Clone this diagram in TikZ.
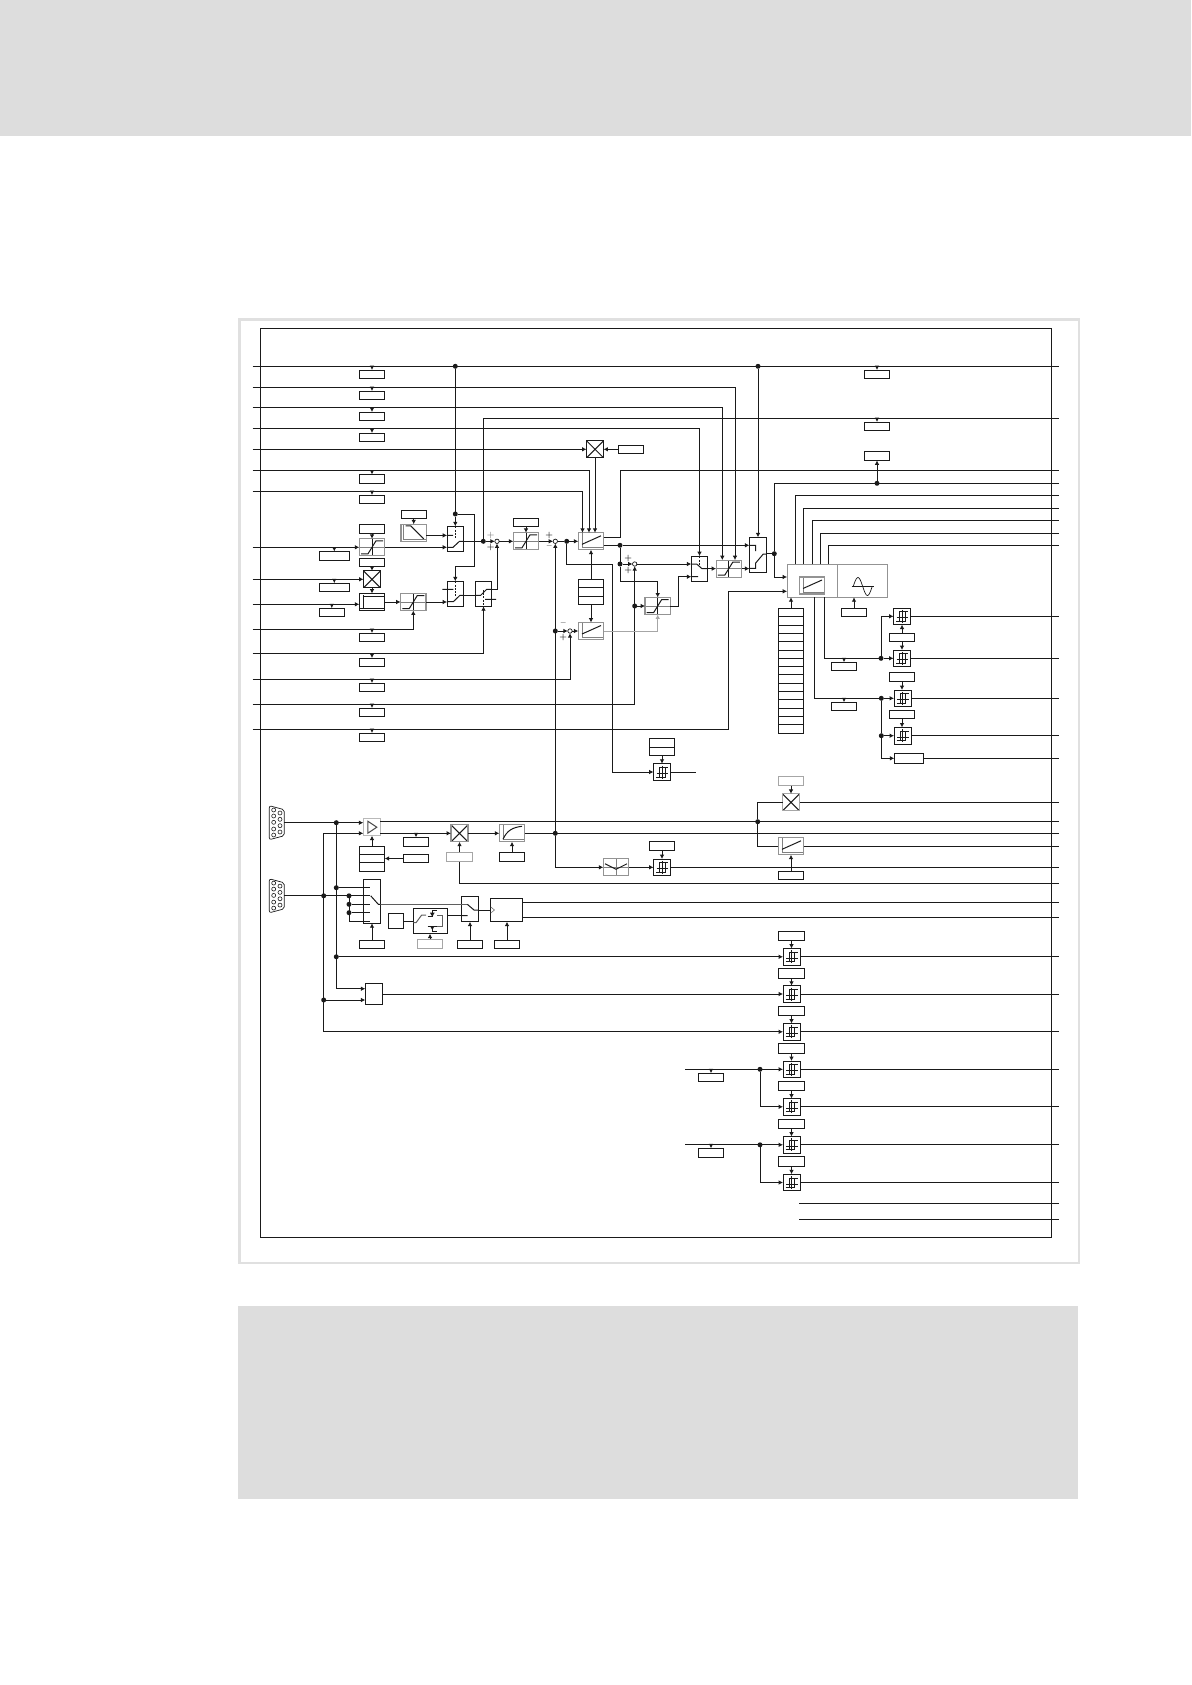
\documentclass[tikz,border=0pt]{standalone}
\usetikzlibrary{arrows.meta}
\definecolor{bandgray}{HTML}{DDDDDD}
\definecolor{framegray}{HTML}{E0E0E0}
\definecolor{linecol}{HTML}{1A1A1A}
\tikzset{
    >={Latex[length=4.4pt,width=4.6pt]},
    every path/.style={line width=1pt},
    glyph/.style={path picture={\begin{scope}[shift={(path picture bounding box.center)},line width=.7pt,linecol]#1\end{scope}}},
    block/.style={draw=linecol,rectangle,inner sep=0pt,outer sep=0pt,minimum width=25.4pt,minimum height=17pt},
    grayblock/.style={block,draw=gray!85,line width=1.2pt},
    parbox/.style={block,minimum height=8.6pt},
    tallbox/.style={block,minimum height=9.4pt},
    graybox/.style={tallbox,draw=gray!70,line width=1.2pt},
    crossglyph/.style={glyph={\draw (-8.5,-8.5)--(8.5,8.5) (-8.5,8.5)--(8.5,-8.5);}},
    crossblock/.style={block,minimum width=17pt,crossglyph},
    limitblock/.style={grayblock,glyph={\draw[gray] (-12.7,0)--(12.7,0); \draw (0,-8)--(0,8);
        \draw (-11,6.5)--(-4,6.5)--(4,-6.5)--(11,-6.5);}},
    rampblock/.style={grayblock,glyph={\draw[gray,line width=1pt] (-10,-8)--(-10,7)--(12,7);
        \draw (-8,-7)--(-3,-7)--(10,6);}},
    piblock/.style={grayblock,glyph={\draw[gray,line width=.9pt] (-9,-8)--(-9,6.5)--(12,6.5);
        \draw (-9,3)--(10,-5.5);}},
    curveblock/.style={block,glyph={\draw (-9,-7)--(-9,7) (-12,6)--(12,6) (-9,-5.5)--(12,-5.5);}},
    expblock/.style={grayblock,glyph={\draw[gray,line width=.9pt] (-9,-8)--(-9,6.5)--(12,6.5);
        \draw (-9,6) .. controls (-5,-3) and (1,-6) .. (10,-7);}},
    ampblock/.style={grayblock,minimum width=17pt,draw=gray!55,glyph={\draw[gray!60!black] (-4,-6)--(-4,6)--(5,0)--cycle;}},
    wedgeblock/.style={grayblock,glyph={\draw[gray] (-12.7,0)--(12.7,0) (0,-8)--(0,8);
        \draw (-11,-3.5)--(0,2)--(11,-3.5);}},
    hystblock/.style={block,minimum width=17pt,minimum height=16.6pt,glyph={
        \draw (-5.5,1.5)--(6,1.5) (0,-6.5)--(0,6.5);
        \draw (-2.5,5)--(-2.5,-4.5)--(6,-4.5) (-6,5)--(3,5)--(3,-4.5);}},
    switchbox/.style={block,minimum width=16.4pt,minimum height=25pt},
    dot/.style={circle,fill=linecol,inner sep=0pt,outer sep=0pt,minimum size=5pt},
    sumnode/.style={circle,draw=linecol,fill=white,inner sep=0pt,outer sep=0pt,minimum size=4.4pt,line width=.7pt},
    sign/.style={inner sep=0pt,font=\fontsize{8}{8}\selectfont\bfseries,text=linecol},
}
\begin{document}
\begin{tikzpicture}[x=1pt,y=-1pt,linecol]
    \useasboundingbox (0,0) rectangle (1191,1685);
    \fill[bandgray] (0,0) rectangle (1191,135.7);
    \fill[bandgray] (238,1306) rectangle (1078,1498.5);
    \draw[framegray,line width=2.4pt] (239.3,319.5) rectangle (1079,1262.7);
    \draw (260.5,328) rectangle (1051.7,1237);

    \foreach \n/\y in {1/366.3,2/387.3,3/407.3,4/428.3,5/449.3,6/470.3,7/491.3,8/547.3,9/579.3,10/604.3,
        11/629.3,12/653.3,13/679.3,14/704.3,15/729.3}
        \coordinate (in\n) at (252.5,\y);
    \foreach \n/\y in {1/366.3,2/418.5,3/470.3,4/483.3,5/495.3,6/508.3,7/520.7,8/533.3,9/545.3,10/616.3,
        11/658.3,12/698.3,13/735.7,14/758.3,15/802.3,16/821.7,17/833.3,18/846.3,19/867.3,20/883.3,
        21/902.3,22/917.3,23/956.8,24/994,25/1031.8,26/1069.3,27/1106.8,28/1144.8,29/1182.5,30/1203.3,31/1219.3}
        \coordinate (out\n) at (1059,\y);

    \foreach \n/\y in {1/374.3,2/395.3,3/416.3,4/437.3,6/478.8,7/499.3,11/637.3,12/662.3,13/687.3,14/712.3,15/737.3}{
        \node[parbox] (par\n) at (372,\y) {};
        \draw[->] (par\n |- in\n) -- (par\n);
    }

    \node[tallbox] (parLimA) at (372,529) {};
    \node[limitblock] (limA) at (372,547.3) {};
    \node[parbox] (parCrossA) at (372,562.5) {};
    \node[crossblock] (crossA) at (372,579.3) {};
    \node[curveblock] (curveA) at (372,602) {};
    \node[parbox,minimum width=30pt] (parInA) at (334.3,555.8) {};
    \node[parbox,minimum width=30pt] (parInB) at (334.3,587.5) {};
    \node[parbox] (parInC) at (331.8,612.5) {};
    \node[rampblock] (rampA) at (413.7,532.8) {};
    \node[parbox] (parRampA) at (413.7,514.5) {};
    \node[limitblock] (limB) at (413.3,602) {};
    \node[switchbox] (swA) at (455.3,538.8) {};
    \node[switchbox] (swB) at (455.3,593.8) {};
    \node[switchbox] (swC) at (483.5,593.8) {};
    \node[limitblock] (limC) at (526,541.3) {};
    \node[parbox] (parLimC) at (526,522.5) {};
    \node[piblock] (piA) at (591,541.3) {};
    \node[crossblock] (crossB) at (595,449.3) {};
    \node[parbox] (parCrossB) at (631,449.3) {};
    \node[block,minimum height=25.4pt] (regA) at (591,592) {};
    \node[piblock] (piB) at (591,631) {};
    \node[limitblock] (limD) at (657.7,606) {};
    \node[switchbox] (swD) at (699.5,568.6) {};
    \node[limitblock] (limE) at (728.8,568.6) {};
    \node[block,minimum width=17.3pt,minimum height=35pt] (swE) at (758,554.8) {};
    \node[block,draw=gray!85,line width=1.2pt,minimum width=50.2pt,minimum height=33pt] (mainL) at (812.2,580.8) {};
    \node[block,draw=gray!85,line width=1.2pt,minimum width=50pt,minimum height=33pt] (mainR) at (862.3,580.8) {};
    \node[piblock] (piC) at (812,585.5) {};
    \draw[line width=.7pt] (851.5,586.5) -- (874,586.5);
    \draw[line width=.7pt] plot[domain=-9.5:9.5,samples=30] (862.7+\x,{586.5+9*sin(\x*19)});
    \node[parbox] (parSine) at (854,612.3) {};
    \node[block,minimum height=125pt] (stackA) at (791,670.8) {};
    \foreach \i in {1,...,14}
        \draw[line width=.9pt] (778.3,608.3+\i*8.33) -- (803.7,608.3+\i*8.33);
    \draw[line width=.9pt] (578.3,587.7) -- (603.7,587.7) (578.3,596) -- (603.7,596);

    \node[parbox] (parOutA) at (877,374.3) {};
    \node[parbox] (parOutB) at (877,426.3) {};
    \node[tallbox] (parOutC) at (877,455.7) {};
    \node[parbox] (parMainA) at (844,666.5) {};
    \node[parbox] (parMainB) at (844,706.5) {};
    \node[hystblock] (hystA) at (902,616.3) {};
    \node[parbox] (parHystA) at (902,637.5) {};
    \node[hystblock] (hystB) at (902,658.3) {};
    \node[tallbox] (parHystC) at (902,677) {};
    \node[hystblock] (hystC) at (902.5,698.3) {};
    \node[parbox] (parHystD) at (902,714.5) {};
    \node[hystblock] (hystD) at (902.5,735.7) {};
    \node[block,minimum width=29.4pt,minimum height=10pt] (wideA) at (909,758.3) {};
    \node[block,minimum height=17.4pt] (regB) at (662,747) {};
    \draw[line width=.9pt] (649.3,747.3) -- (674.7,747.3);
    \node[hystblock] (hystF) at (662,772) {};

    \node[sumnode] (sumA) at (497,541.3) {};
    \node[sumnode] (sumB) at (555.3,541.3) {};
    \node[sumnode] (sumC) at (634.7,564) {};
    \node[sumnode] (sumD) at (570,631) {};
    \node[sign,text=gray] (signA) at (490.7,535) {+};
    \node[sign] (signB) at (490.7,547.3) {+};
    \node[sign] (signC) at (549.3,535.3) {+};
    \node[sign] (signD) at (549.3,547.3) {--};
    \node[sign] (signE) at (628.3,558) {+};
    \node[sign] (signF) at (628.3,570.3) {+};
    \node[sign] (signG) at (563.3,624.3) {--};
    \node[sign] (signH) at (563.3,637.3) {+};

    \node[dot] (dotA) at (455.3,366.3) {};
    \node[dot] (dotB) at (455.3,514) {};
    \node[dot] (dotC) at (483.3,541.3) {};
    \node[dot] (dotD) at (566.7,541.3) {};
    \node[dot] (dotE) at (555.3,631) {};
    \node[dot] (dotF) at (555.3,833.3) {};
    \node[dot] (dotG) at (620,545.3) {};
    \node[dot] (dotH) at (620,564) {};
    \node[dot] (dotI) at (634.7,606) {};
    \node[dot] (dotJ) at (758,366.3) {};
    \node[dot] (dotK) at (774.3,553.7) {};
    \node[dot] (dotL) at (877,483.3) {};
    \node[dot] (dotM) at (881,658.3) {};
    \node[dot] (dotN) at (881.3,698.3) {};
    \node[dot] (dotO) at (881.3,735.7) {};

    \coordinate (turnA) at (612.3,564.3);
    \coordinate (turnB) at (620.3,470.3);
    \coordinate (turnC) at (640,581.3);
    \coordinate (turnD) at (678.3,576.7);
    \coordinate (turnE) at (728.3,591.3);
    \coordinate (turnF) at (474.3,514);
    \coordinate (turnG) at (474.3,566.7);
    \coordinate (turnH) at (497,589.3);
    \coordinate (endF) at (695.7,772);

    \draw (in1) -- (out1);
    \draw[->] (dotA) -- (dotB) -- (swA.north);
    \draw[->] (dotB) -- (turnF) -- (turnG) -| (swB.north);
    \draw[->] (in2) -| ([xshift=6.2pt]limE.north);
    \draw[->] (in3) -| ([xshift=-6.5pt]limE.north);
    \draw[->] (in4) -| (swD.north);
    \draw[->] (in5) -- (crossB);
    \draw[->] (parCrossB) -- (crossB);
    \draw[->] (in6) -| ([xshift=-2pt]piA.north);
    \draw[->] (in7) -| ([xshift=-8.5pt]piA.north);
    \draw[->] (crossB.south) -- ([xshift=4pt]piA.north);
    \draw[->] (in8) -- (limA);
    \draw[->] (in9) -- (crossA);
    \draw[->] (in10) -- (in10 -| curveA.west);
    \draw[->] (parInA |- in8) -- (parInA);
    \draw[->] (parInB |- in9) -- (parInB);
    \draw[->] (parInC |- in10) -- (parInC);
    \draw[->] (parLimA) -- (limA);
    \draw[->] (parCrossA) -- (crossA);
    \draw[->] (crossA) -- (curveA);
    \draw[->] (curveA) -- (limB);
    \draw[->] (in11) -| (limB.south);
    \draw[->] (parRampA) -- (rampA);
    \draw[->] ([yshift=-2.6pt]rampA.east) -- ([yshift=-2.6pt]rampA.east -| swA.west);
    \draw[->] (limA) -- (limA -| swA.west);
    \draw[->] (limB) -- (limB -| swB.west);
    \draw[->] (in12) -| (swC.south);
    \draw (swA.east |- dotC) -- (dotC);
    \draw (dotC) |- (out2);
    \draw[->] (dotC) -- (sumA);
    \draw (swB.east |- 0,595.3) -- (swC.west |- 0,595.3);
    \draw[->] (swC.east |- turnH) -- (turnH) -- (sumA);
    \draw[->] (sumA) -- (limC);
    \draw[->] (parLimC) -- (limC);
    \draw[->] (limC) -- (sumB);
    \draw (sumB) -- (dotD);
    \draw[->] (dotD) -- (piA);
    \draw[->] (dotF) -- (sumB);
    \draw[->] (dotD) |- (turnA) |- (hystF);
    \draw ([yshift=3.9pt]piA.east) -| (turnB) -- (out3);
    \draw ([yshift=-4pt]piA.east) -- (dotG);
    \draw[->] (dotG) -- (dotG -| swE.west);
    \draw (dotG) -- (dotH);
    \draw[->] (dotH) -- (sumC);
    \draw[->] (dotH) |- (turnC) -| (limD.north);
    \draw[->] (sumC) -- (sumC -| swD.west);
    \draw[->] (in14) -| (sumC.south);
    \draw[->] (dotI) -- (limD);
    \draw[->] (limD.east) -| (turnD) -- (turnD -| swD.west);
    \draw[->] (swD) -- (limE);
    \draw[->] (limE) -- (limE -| swE.west);
    \draw[->] (dotJ) -- (swE.north);
    \draw (swE.east |- dotK) -- (dotK);
    \draw (dotK) |- (out4);
    \draw[->] (dotK) |- ([yshift=3.8pt]mainL.west);
    \draw[->] (in15) -| (turnE) -- (turnE -| mainL.west);
    \draw[->] (regA.north) -- (piA.south);
    \draw[->] (regA.south) -- (piB.north);
    \draw[->] (dotE) -- (sumD);
    \draw[->] (sumD) -- (piB);
    \draw[->] (in13) -| (sumD.south);
    \draw[gray!70,->] (piB.east) -| (limD.south);
    \draw[->] (stackA.north) -- (stackA.north |- mainL.south);
    \draw[->] (parSine) -- (parSine |- mainR.south);
    \foreach \n/\dx in {5/-16.9,6/-8.9,7/.1,8/8.1,9/16.1}
        \draw ([xshift=\dx pt]mainL.north) |- (out\n);
    \draw[->] (parOutA |- out1) -- (parOutA);
    \draw[->] (parOutB |- out2) -- (parOutB);
    \draw[->] (dotL) -- (parOutC);
    \draw ([xshift=12.1pt]mainL.south) |- (dotM);
    \draw ([xshift=2.1pt]mainL.south) |- (dotN);
    \draw[->] (parMainA |- dotM) -- (parMainA);
    \draw[->] (parMainB |- dotN) -- (parMainB);
    \draw[->] (dotM) |- (hystA);
    \draw[->] (dotM) -- (hystB);
    \draw[->] (dotN) -- (hystC);
    \draw (dotN) -- (dotO);
    \draw[->] (dotO) -- (hystD);
    \draw[->] (dotO) |- (wideA);
    \draw[->] (parHystA) -- (hystA);
    \draw[->] (parHystA) -- (hystB);
    \draw[->] (parHystC) -- ([xshift=-.5pt]hystC.north);
    \draw[->] (parHystD) -- ([xshift=-.5pt]hystD.north);
    \draw (hystA) -- (out10);
    \draw (hystB) -- (out11);
    \draw (hystC) -- (out12);
    \draw (hystD) -- (out13);
    \draw (wideA) -- (out14);
    \draw[->] (regB) -- (hystF);
    \draw (hystF) -- (endF);

    % switch contacts
    \begin{scope}[line width=.8pt]
        \draw[dashed,dash pattern=on 2pt off 1.2pt] (455.3,526.3) -- (455.3,539);
        \draw (447.3,535.3) -- (453,535.3) (447.3,547.3) -- (453,547.3) -- (459.5,541.3) -- (463.3,541.3);
        \draw[dashed,dash pattern=on 2pt off 1.2pt] (455.3,581.3) -- (455.3,596);
        \draw (442.3,589.3) -- (453.3,589.3) (447.3,601.7) -- (453.3,601.7) -- (460,595.3) -- (463.3,595.3);
        \draw[dashed,dash pattern=on 2pt off 1.2pt] (483.3,590) -- (483.3,606.3);
        \draw (475.3,595.3) -- (480.7,595.3) -- (486.7,589.3) -- (491.7,589.3) (485,599.3) -- (496,599.3);
        \draw[dashed,dash pattern=on 2pt off 1.2pt] (699.3,556.3) -- (699.3,565);
        \draw (691.3,564) -- (696.7,564) -- (702,568.7) -- (707.7,568.7) (691.3,576.7) -- (698,576.7);
        \draw (749.3,545.3) -- (755.7,545.3) -- (755.7,551) (749.3,568.3) -- (755.7,568.3) -- (755.7,563) -- (763.3,554) -- (766.7,554);
    \end{scope}

    \foreach \n/\y in {1/822.7,2/895.8}{
        \begin{scope}[shift={(276.8,\y)}]
            \draw[rounded corners=2pt,line width=.7pt] (-7.5,-17) -- (7.5,-13) -- (7.5,13) -- (-7.5,17) -- cycle;
            \foreach \py in {-12.7,-6.7,-.4,6.3,12.3}
                \draw[line width=.6pt] (-3.1,\py) circle (2);
            \foreach \py in {-9.7,-3.4,3,9.3}
                \draw[line width=.6pt] (3.2,\py) circle (2);
            \coordinate (dsub\n) at (7.5,0);
        \end{scope}
    }

    \node[ampblock] (ampA) at (371.8,827.2) {};
    \node[crossblock,draw=gray!85,line width=1.2pt] (crossC) at (459.5,833.3) {};
    \node[tallbox] (parCrossC) at (416,842) {};
    \node[parbox] (parRegC) at (416,858.5) {};
    \node[graybox] (parCrossD) at (459.5,857) {};
    \node[block,minimum height=25.4pt] (regC) at (372,859) {};
    \draw[line width=.9pt] (359.3,854.3) -- (384.7,854.3) (359.3,862.3) -- (384.7,862.3);
    \node[expblock] (expA) at (512,833.3) {};
    \node[tallbox] (parExpA) at (512,857) {};
    \node[wedgeblock] (wedgeA) at (616,867.3) {};
    \node[hystblock] (hystG) at (662,867.3) {};
    \node[tallbox] (parHystG) at (662,846) {};
    \node[block,minimum width=17pt,minimum height=44pt] (swF) at (371.8,901.3) {};
    \node[parbox] (parSwF) at (372,944.5) {};
    \node[block,minimum width=17.4pt,minimum height=25.4pt] (swG) at (470,909) {};
    \node[parbox] (parSwG) at (470,944.5) {};
    \node[block,minimum width=32.4pt,minimum height=23.4pt] (clockA) at (506.5,910) {};
    \node[parbox] (parClockA) at (507,944.5) {};
    \node[block,minimum width=34.4pt,minimum height=25.4pt] (relayA) at (430.5,921) {};
    \node[block,minimum width=15.4pt,minimum height=15.4pt] (smallA) at (396,921) {};
    \node[graybox] (parRelayA) at (430,944) {};
    \node[block,minimum width=17.4pt,minimum height=21.4pt] (gateA) at (374,994) {};
    \node[crossblock,draw=gray!70,line width=1.2pt] (crossD) at (791,802.3) {};
    \node[graybox] (parCrossE) at (791,781) {};
    \node[piblock] (piD) at (791,846.3) {};
    \node[parbox] (parPiD) at (791,875.5) {};

    \foreach \n/\h/\b in {A/956.8/936,B/994/973.5,C/1031.8/1011,D/1069.3/1048.5,E/1106.8/1086,H/1144.8/1124,J/1182.5/1161.5}{
        \node[hystblock] (hystL\n) at (791.5,\h) {};
        \node[tallbox] (parL\n) at (791.5,\b) {};
        \draw[->] (parL\n) -- (hystL\n);
    }
    \node[parbox] (parInD) at (711,1077.5) {};
    \node[tallbox] (parInE) at (711,1153) {};

    \node[dot] (dotP) at (336.3,822.7) {};
    \node[dot] (dotQ) at (336.3,887.7) {};
    \node[dot] (dotR) at (336.3,956.8) {};
    \node[dot] (dotS) at (323.7,895.8) {};
    \node[dot] (dotT) at (349,895.8) {};
    \node[dot] (dotU) at (349,904.3) {};
    \node[dot] (dotV) at (349,912.7) {};
    \node[dot] (dotW) at (323.7,1000) {};
    \node[dot] (dotX) at (757.7,821.7) {};
    \node[dot] (dotY) at (760,1069.3) {};
    \node[dot] (dotZ) at (760,1144.8) {};

    \coordinate (swStub) at (370,900);
    \coordinate (stubEnd) at (370,921.3);
    \coordinate (turnJ) at (323.7,833.3);
    \coordinate (inLowA) at (685,1069.3);
    \coordinate (inLowB) at (685,1144.8);
    \coordinate (freeA) at (799,1203.3);
    \coordinate (freeB) at (799,1219.3);

    \draw[->] (dsub1) -- (dsub1 -| ampA.west);
    \draw (dsub2) -- (swStub |- dsub2);
    \draw[->] (dotP) |- ([yshift=5.3pt]gateA.west);
    \draw (dotQ) -- (swStub |- dotQ);
    \draw (dotT) |- (stubEnd);
    \draw (dotU) -- (swStub |- dotU);
    \draw (dotV) -- (swStub |- dotV);
    \draw[->] (turnJ) -- (turnJ -| ampA.west);
    \draw[->] (turnJ) |- (hystLC);
    \draw[->] (dotW) -- (dotW -| gateA.west);
    \draw[->] (dotR) -- (hystLA);
    \draw[->] (gateA) -- (hystLB);
    \draw ([yshift=5.5pt]ampA.east) -- (out16);
    \draw[->] (ampA.east |- crossC) -- (crossC);
    \draw[->] (parCrossC |- crossC) -- (parCrossC);
    \draw[->] (parRegC) -- (parRegC -| regC.east);
    \draw[->] (regC) -- (regC |- ampA.south);
    \draw[->] (crossC) -- (expA);
    \draw[->] (parCrossD) -- (crossC);
    \draw (parCrossD) |- (out20);
    \draw[->] (parExpA) -- (expA);
    \draw (expA) -- (out17);
    \draw[->] (dotF) |- (wedgeA);
    \draw[->] (wedgeA) -- (hystG);
    \draw[->] (parHystG) -- (hystG);
    \draw (hystG) -- (out19);
    \draw (dotX) |- (crossD);
    \draw (dotX) |- (piD);
    \draw (crossD) -- (out15);
    \draw (piD) -- (out18);
    \draw[->] (parCrossE) -- (crossD);
    \draw[->] (parPiD) -- (piD);
    \draw[->] (parSwF) -- (parSwF |- swF.south);
    \draw[->] (parSwG) -- (swG);
    \draw[->] (parClockA) -- (parClockA |- clockA.south);
    \draw[->] (parRelayA) -- (parRelayA |- relayA.south);
    \draw[line width=.7pt,linecol!70] ([yshift=-3pt]swF.east) -- ([yshift=-3pt]swF.east -| swG.west);
    \draw (swG.east |- clockA) -- (clockA);
    \draw (smallA) -- (relayA);
    \draw ([yshift=5.5pt]relayA.east) -- ([yshift=5.5pt]relayA.east -| swG.west);
    \draw ([yshift=7.7pt]clockA.east) -- (out21);
    \draw ([yshift=-7.3pt]clockA.east) -- (out22);
    \draw (dotR) -- (dotP);
    \draw[->] (inLowA) -- (hystLD);
    \draw[->] (dotY) |- (hystLE);
    \draw[->] (inLowB) -- (hystLH);
    \draw[->] (dotZ) |- (hystLJ);
    \draw[->] (parInD |- inLowA) -- (parInD);
    \draw[->] (parInE |- inLowB) -- (parInE);
    \foreach \n/\k in {A/23,B/24,C/25,D/26,E/27,H/28,J/29}
        \draw (hystL\n) -- (out\k);
    \draw (freeA) -- (out30);
    \draw (freeB) -- (out31);

    % inner contacts of the lower row
    \begin{scope}[line width=.8pt]
        \draw (370.7,895.8) -- (378.3,904.3) -- (380.3,904.3);
        \draw[linecol!70] (461.3,904.3) -- (467.3,904.3);
        \draw (467.3,904.3) -- (474,910) -- (478.7,910) (467.5,915.5) -- (461.3,915.5);
        \draw[linecol!70] (413.3,922.7) -- (416,922.7) -- (421.7,915) -- (426,915);
        \draw (427.7,916.7) -- (432.3,916.7) -- (432.3,910.7) -- (437.3,910.7);
        \draw (427.7,926) -- (437,926) (432.3,926) -- (432.3,931.7) -- (437.3,931.7);
        \draw[linecol!70] (437.3,915.5) -- (442.7,915.5) -- (442.7,926.7) -- (437.3,926.7);
        \draw[linecol!60,line width=.6pt] (490.8,907) -- (494.5,910) -- (490.8,913);
    \end{scope}
    \fill (430,912.7) -- (432.3,916.7) -- (434.6,912.7) -- cycle;
    \fill (430,926) -- (432.3,930) -- (434.6,926) -- cycle;
\end{tikzpicture}
\end{document}
